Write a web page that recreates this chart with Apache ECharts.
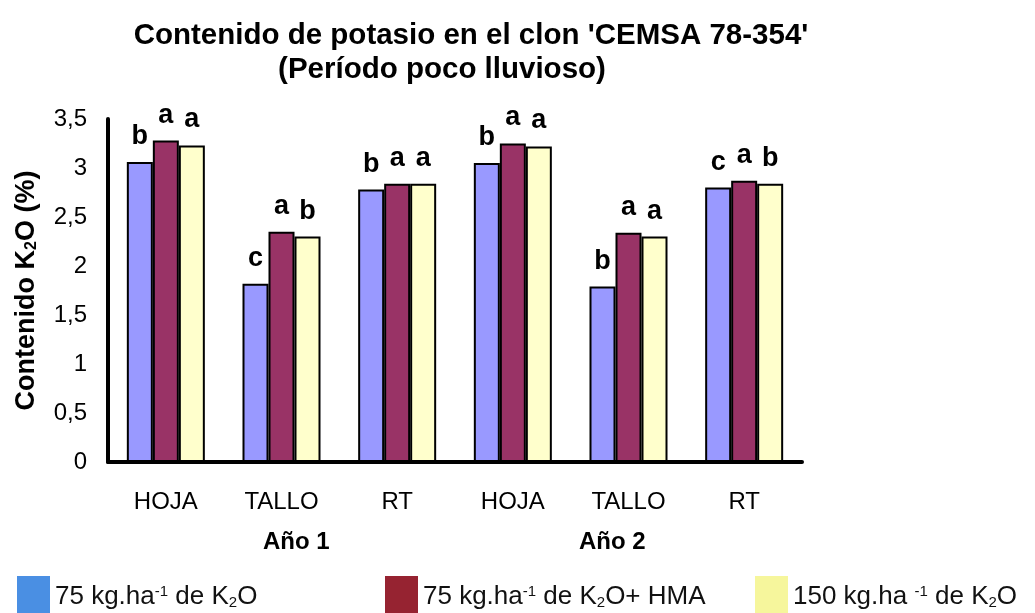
<!doctype html>
<html lang="es">
<head>
<meta charset="UTF-8">
<title>Contenido de potasio</title>
<script src="https://cdn.jsdelivr.net/npm/echarts@6/dist/echarts.min.js"></script>
<style>
  html, body { margin: 0; padding: 0; background: #fff; }
  #chart { width: 1035px; height: 613px; }
</style>
</head>
<body>
<div id="chart"></div>
<script>
  // datos
  var categorias = ['HOJA', 'TALLO', 'RT', 'HOJA', 'TALLO', 'RT'];
  var anos = ['Año 1', 'Año 2'];
  var tratamientos = ['75 kg.ha-1 de K2O', '75 kg.ha-1 de K2O+ HMA', '150 kg.ha -1 de K2O'];
  var dosis75 = [3.06, 1.82, 2.78, 3.05, 1.79, 2.80];
  var dosis75hma = [3.28, 2.35, 2.84, 3.25, 2.34, 2.87];
  var dosis150 = [3.23, 2.30, 2.84, 3.22, 2.30, 2.84];
  var letras75 = ['b', 'c', 'b', 'b', 'b', 'c'];
  var letras75hma = ['a', 'a', 'a', 'a', 'a', 'a'];
  var letras150 = ['a', 'b', 'a', 'a', 'a', 'b'];
  var yTicks = [0, 0.5, 1, 1.5, 2, 2.5, 3, 3.5];

  var fuente = '"Liberation Sans", Arial, sans-serif';
  var coloresBarra = ['#9999ff', '#993366', '#ffffcc'];
  var coloresLeyenda = ['#4a8fe3', '#962331', '#f6f69c'];

  var chart = echarts.init(document.getElementById('chart'));

  function serie(nombre, valores, letras, color) {
    return {
      name: nombre,
      type: 'bar',
      data: valores,
      barWidth: 26,
      barGap: '0%',
      itemStyle: { color: color, borderColor: '#000', borderWidth: 2 },
      label: {
        show: true,
        position: 'top',
        distance: 12,
        formatter: function (p) { return letras[p.dataIndex]; },
        fontFamily: fuente,
        fontSize: 27,
        fontWeight: 'bold',
        color: '#000'
      }
    };
  }

  // texto con superindice / subindice
  function textoLeyenda(nombre) {
    return nombre
      .replace('-1', '{sup|-1}')
      .replace('K2O', 'K{sub|2}O');
  }

  var richLeyenda = {
    sup: { fontSize: 15, verticalAlign: 'top', lineHeight: 14, fontFamily: fuente, color: '#111' },
    sub: { fontSize: 15, verticalAlign: 'bottom', lineHeight: 12, fontFamily: fuente, color: '#111' }
  };

  var posLeyenda = [12, 380, 750];
  var leyendas = tratamientos.map(function (t, i) {
    return {
      left: posLeyenda[i],
      top: 571,
      icon: 'rect',
      itemWidth: 33,
      itemHeight: 42,
      itemGap: 5,
      selectedMode: false,
      data: [{ name: t, itemStyle: { color: coloresLeyenda[i], borderWidth: 0 } }],
      formatter: textoLeyenda,
      textStyle: { fontFamily: fuente, fontSize: 26, color: '#111', rich: richLeyenda }
    };
  });

  var option = {
    animation: false,
    backgroundColor: '#fff',
    title: [
      {
        text: "Contenido de potasio en el clon 'CEMSA 78-354'",
        left: 466, top: 16, textAlign: 'center',
        textStyle: { fontFamily: fuente, fontSize: 29.5, fontWeight: 'bold', color: '#000' }
      },
      {
        text: '(Período poco lluvioso)',
        left: 437, top: 50, textAlign: 'center',
        textStyle: { fontFamily: fuente, fontSize: 29.5, fontWeight: 'bold', color: '#000' }
      }
    ],
    legend: leyendas,
    grid: { left: 108, right: 233, top: 119, bottom: 151, containLabel: false },
    xAxis: {
      type: 'category',
      data: categorias,
      axisLine: { lineStyle: { color: '#000', width: 4 } },
      axisTick: { show: false },
      axisLabel: { fontFamily: fuente, fontSize: 24, color: '#000', margin: 28 }
    },
    yAxis: {
      type: 'value',
      min: yTicks[0],
      max: yTicks[yTicks.length - 1],
      interval: 0.5,
      name: 'Contenido K{sub|2}O (%)',
      nameLocation: 'middle',
      nameRotate: 90,
      nameGap: 68,
      nameTextStyle: {
        fontFamily: fuente, fontSize: 27, fontWeight: 'bold', color: '#000',
        rich: {
          sub: { fontSize: 16, fontWeight: 'bold', verticalAlign: 'bottom', lineHeight: 12, fontFamily: fuente, color: '#000' }
        }
      },
      axisLine: { show: true, lineStyle: { color: '#000', width: 4 } },
      axisTick: { show: false },
      splitLine: { show: false },
      axisLabel: {
        fontFamily: fuente, fontSize: 24, color: '#000', margin: 21,
        formatter: function (v) { return String(v).replace('.', ','); }
      }
    },
    graphic: [
      { type: 'text', left: 263, top: 530, style: { text: anos[0], font: 'bold 24px ' + fuente, fill: '#000' } },
      { type: 'text', left: 579, top: 530, style: { text: anos[1], font: 'bold 24px ' + fuente, fill: '#000' } }
    ],
    series: [
      serie(tratamientos[0], dosis75, letras75, coloresBarra[0]),
      serie(tratamientos[1], dosis75hma, letras75hma, coloresBarra[1]),
      serie(tratamientos[2], dosis150, letras150, coloresBarra[2])
    ]
  };

  chart.setOption(option);
</script>
</body>
</html>
